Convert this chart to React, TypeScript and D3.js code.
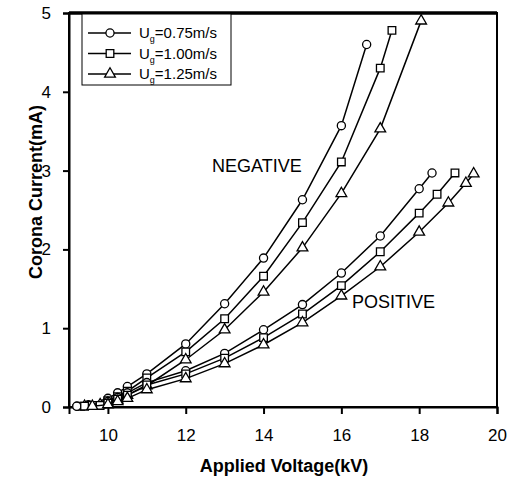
import React, { useEffect, useRef } from "react";
import * as d3 from "d3";

// voltage (kV) / current (mA)
const negSlowV = [9.2, 9.5, 10, 10.25, 10.5, 11, 12, 13, 14, 15, 16, 16.65];
const negSlowI = [0.01, 0.03, 0.11, 0.18, 0.26, 0.42, 0.8, 1.31, 1.89, 2.63, 3.57, 4.6];
const negMidV = [9.3, 9.6, 10, 10.25, 10.5, 11, 12, 13, 14, 15, 16, 17, 17.3];
const negMidI = [0.01, 0.02, 0.08, 0.13, 0.2, 0.37, 0.7, 1.12, 1.66, 2.34, 3.11, 4.3, 4.78];
const negFastV = [9.4, 9.8, 10, 10.25, 10.5, 11, 12, 13, 14, 15, 16, 17, 18.05];
const negFastI = [0.01, 0.03, 0.05, 0.09, 0.15, 0.27, 0.6, 0.98, 1.46, 2.02, 2.71, 3.53, 4.9];
const posSlowV = [9.2, 9.5, 10, 10.25, 10.5, 11, 12, 13, 14, 15, 16, 17, 18, 18.33];
const posSlowI = [0.01, 0.02, 0.07, 0.12, 0.18, 0.31, 0.46, 0.68, 0.98, 1.3, 1.7, 2.17, 2.77, 2.97];
const posMidV = [9.4, 9.8, 10, 10.25, 10.5, 11, 12, 13, 14, 15, 16, 17, 18, 18.46, 18.92];
const posMidI = [0.01, 0.02, 0.05, 0.1, 0.15, 0.28, 0.42, 0.62, 0.88, 1.18, 1.54, 1.97, 2.46, 2.7, 2.97];
const posFastV = [9.6, 10, 10.25, 10.5, 11, 12, 13, 14, 15, 16, 17, 18, 18.75, 19.2, 19.4];
const posFastI = [0.01, 0.03, 0.07, 0.11, 0.22, 0.36, 0.55, 0.79, 1.07, 1.41, 1.78, 2.22, 2.59, 2.84, 2.96];

const legendLabels = ["=0.75m/s", "=1.00m/s", "=1.25m/s"];
const xTicks = [10, 12, 14, 16, 18, 20];
const yTicks = [0, 1, 2, 3, 4, 5];

const series = [
  { v: negSlowV, i: negSlowI, mk: "circle" },
  { v: negMidV, i: negMidI, mk: "square" },
  { v: negFastV, i: negFastI, mk: "triangle" },
  { v: posSlowV, i: posSlowI, mk: "circle" },
  { v: posMidV, i: posMidI, mk: "square" },
  { v: posFastV, i: posFastI, mk: "triangle" },
];

const symFor = (mk: string) =>
  mk === "circle" ? d3.symbol(d3.symbolCircle, 52) : mk === "square" ? d3.symbol(d3.symbolSquare, 58) : d3.symbol(d3.symbolTriangle, 50);

export default function App() {
  const ref = useRef<SVGSVGElement>(null);
  useEffect(() => {
    const node = ref.current; if (!node) return;
    const svg = d3.select(node);
    svg.selectAll("*").remove();
    const w = 514, h = 481, m = { t: 13, r: 17, b: 74, l: 69 };
    const x = d3.scaleLinear().domain([9, 20]).range([m.l, w - m.r]);
    const y = d3.scaleLinear().domain([0, 5]).range([h - m.b, m.t]);
    const font = "'Liberation Sans', Arial, sans-serif";

    const g = svg.append("g");
    // frame
    g.append("rect").attr("x", m.l).attr("y", m.t).attr("width", w - m.r - m.l).attr("height", h - m.b - m.t)
      .attr("fill", "none").attr("stroke", "#000").attr("stroke-width", 2);
    g.append("line").attr("x1", m.l).attr("x2", w - m.r).attr("y1", m.t).attr("y2", m.t).attr("stroke", "#000").attr("stroke-width", 3);

    const xa = g.append("g").attr("transform", `translate(0,${h - m.b})`)
      .call(d3.axisBottom(x).tickValues(xTicks).tickSize(7).tickPadding(15).tickFormat(d3.format("d")));
    const ya = g.append("g").attr("transform", `translate(${m.l},0)`)
      .call(d3.axisLeft(y).tickValues(yTicks).tickSize(6).tickPadding(12).tickFormat(d3.format("d")));
    [xa, ya].forEach((a) => {
      a.select(".domain").attr("stroke-width", 2);
      a.selectAll(".tick line").attr("stroke-width", 2);
      a.selectAll(".tick text").attr("font-family", font).attr("font-size", 17).attr("fill", "#000");
    });

    series.forEach((s) => {
      const pts = s.v.map((v, k) => [x(v), y(s.i[k])] as [number, number]);
      g.append("path").attr("d", d3.line()(pts)).attr("fill", "none").attr("stroke", "#000").attr("stroke-width", 1.5);
      g.selectAll(null).data(pts).enter().append("path")
        .attr("transform", (p) => `translate(${p[0]},${p[1]})`)
        .attr("d", symFor(s.mk)()!)
        .attr("fill", "#fff").attr("stroke", "#000").attr("stroke-width", 1.3);
    });

    // annotations
    g.append("text").attr("x", 212).attr("y", 172).attr("font-family", font).attr("font-size", 18).text("NEGATIVE");
    g.append("text").attr("x", 352).attr("y", 308).attr("font-family", font).attr("font-size", 18).text("POSITIVE");

    // axis titles
    g.append("text").attr("x", 284).attr("y", 472).attr("text-anchor", "middle")
      .attr("font-family", font).attr("font-weight", "bold").attr("font-size", 18).text("Applied Voltage(kV)");
    g.append("text").attr("transform", `translate(42,192) rotate(-90)`).attr("text-anchor", "middle")
      .attr("font-family", font).attr("font-weight", "bold").attr("font-size", 18).text("Corona Current(mA)");

    // legend
    const lg = g.append("g");
    lg.append("rect").attr("x", 82).attr("y", m.t).attr("width", 149).attr("height", 72)
      .attr("fill", "#fff").attr("stroke", "#000").attr("stroke-width", 1);
    g.append("line").attr("x1", m.l).attr("x2", w - m.r).attr("y1", m.t).attr("y2", m.t).attr("stroke", "#000").attr("stroke-width", 3);
    ["circle", "square", "triangle"].forEach((mk, k) => {
      const ly = 33 + k * 20.5;
      lg.append("line").attr("x1", 88).attr("x2", 131).attr("y1", ly).attr("y2", ly).attr("stroke", "#000").attr("stroke-width", 1.5);
      lg.append("path").attr("transform", `translate(110,${ly})`).attr("d", symFor(mk)()!)
        .attr("fill", "#fff").attr("stroke", "#000").attr("stroke-width", 1.3);
      const t = lg.append("text").attr("x", 139).attr("y", ly + 5).attr("font-family", font).attr("font-size", 15);
      t.append("tspan").text("U");
      t.append("tspan").attr("font-size", 9).attr("dy", 4).text("g");
      t.append("tspan").attr("dy", -4).text(legendLabels[k]);
    });
  }, []);
  return <svg ref={ref} width={514} height={481} style={{ position: "absolute", left: 0, top: 0, background: "#fff" }} />;
}
